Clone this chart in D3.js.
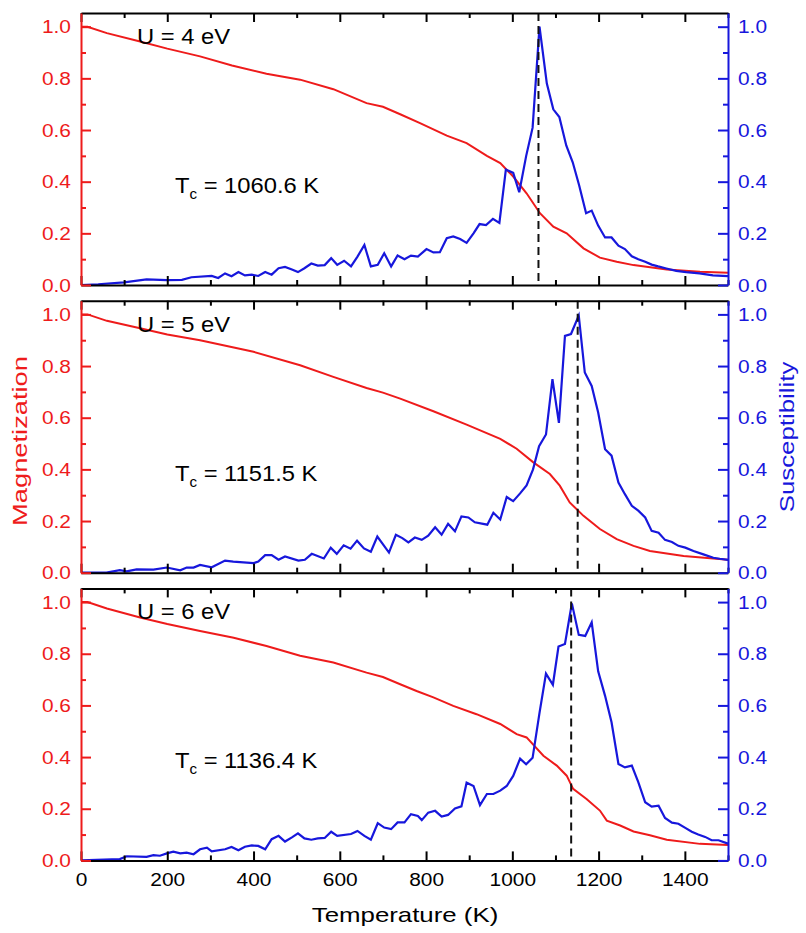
<!DOCTYPE html>
<html>
<head>
<meta charset="utf-8">
<script src="https://cdn.jsdelivr.net/npm/d3@7"></script>
<style>
body { margin: 0; background: #fff; }
text { font-family: "Liberation Sans", Arial, sans-serif; }
</style>
</head>
<body>
<svg id="chart"></svg>
<script>
// tick values
var xTicks = [0, 200, 400, 600, 800, 1000, 1200, 1400];
var xMinor = [100, 300, 500, 700, 900, 1100, 1300, 1500];
var yTicks = [0, 0.2, 0.4, 0.6, 0.8, 1.0];
var yMinor = [0.1, 0.3, 0.5, 0.7, 0.9];

var panelU = ["U = 4 eV", "U = 5 eV", "U = 6 eV"];
var tcValues = [1060.6, 1151.5, 1136.4];

// magnetization (red), [T, M]
var mag4 = [[0,1.0],[15,1.0],[60,0.975],[137,0.943],[200,0.915],[276,0.885],[350,0.85],[430,0.818],[508,0.795],[585,0.758],
  [662,0.704],[700,0.69],[740,0.661],[786,0.627],[848,0.578],[894,0.549],[941,0.5],[972,0.472],[1002,0.42],[1033,0.355],
  [1064,0.278],[1095,0.226],[1126,0.2],[1165,0.142],[1203,0.106],[1242,0.09],[1281,0.077],[1358,0.06],[1435,0.051],[1500,0.047]];
var mag5 = [[0,1.0],[15,1.0],[60,0.975],[137,0.946],[200,0.922],[276,0.9],[400,0.855],[508,0.803],[585,0.758],[662,0.715],
  [700,0.697],[740,0.674],[817,0.625],[894,0.573],[972,0.518],[1010,0.48],[1048,0.428],[1087,0.382],[1110,0.337],[1133,0.272],
  [1165,0.22],[1203,0.169],[1242,0.13],[1281,0.104],[1319,0.084],[1397,0.065],[1500,0.05]];
var mag6 = [[0,1.0],[15,1.0],[60,0.975],[137,0.94],[200,0.915],[276,0.888],[354,0.862],[430,0.83],[508,0.792],[585,0.766],
  [662,0.727],[700,0.71],[740,0.682],[778,0.656],[817,0.631],[863,0.598],[917,0.566],[972,0.528],[1010,0.489],[1033,0.476],
  [1072,0.405],[1103,0.367],[1126,0.328],[1141,0.277],[1172,0.238],[1203,0.193],[1219,0.154],[1250,0.135],[1281,0.112],
  [1319,0.097],[1358,0.08],[1435,0.064],[1500,0.06]];

// susceptibility (blue), [T, chi]
var sus4 = [[0,0],[40,0.003],[100,0.01],[152,0.022],[199,0.019],[234,0.02],[256,0.03],[303,0.035],[318,0.027],[334,0.045],
  [349,0.034],[365,0.05],[380,0.037],[396,0.04],[411,0.035],[427,0.05],[442,0.04],[458,0.065],[473,0.07],[489,0.06],
  [503,0.05],[518,0.065],[534,0.083],[549,0.075],[565,0.077],[580,0.104],[594,0.078],[610,0.094],[626,0.072],[641,0.11],
  [657,0.155],[672,0.072],[688,0.078],[703,0.123],[719,0.072],[734,0.114],[750,0.1],[765,0.114],[781,0.11],[801,0.139],
  [817,0.126],[832,0.127],[848,0.181],[863,0.188],[879,0.178],[894,0.163],[910,0.2],[924,0.236],[939,0.232],[955,0.256],
  [970,0.24],[985,0.447],[1002,0.434],[1016,0.359],[1032,0.499],[1047,0.609],[1063,1.0],[1080,0.78],[1095,0.68],[1109,0.65],
  [1125,0.54],[1140,0.475],[1155,0.385],[1171,0.278],[1184,0.288],[1199,0.23],[1215,0.184],[1230,0.184],[1246,0.152],
  [1261,0.139],[1277,0.111],[1292,0.1],[1308,0.09],[1323,0.079],[1338,0.072],[1357,0.064],[1380,0.055],[1403,0.05],
  [1434,0.045],[1465,0.037],[1500,0.034]];
var sus5 = [[0,0],[59,0],[90,0.01],[106,0.005],[129,0.013],[168,0.012],[199,0.02],[230,0.009],[245,0.02],[261,0.02],
  [276,0.03],[303,0.021],[334,0.047],[353,0.043],[400,0.037],[411,0.043],[427,0.068],[442,0.068],[458,0.05],[473,0.063],
  [504,0.047],[519,0.05],[535,0.073],[563,0.055],[579,0.097],[593,0.073],[609,0.106],[625,0.093],[640,0.124],[656,0.094],
  [672,0.081],[687,0.14],[714,0.078],[730,0.147],[745,0.134],[759,0.117],[774,0.136],[790,0.127],[805,0.143],[821,0.176],
  [836,0.147],[851,0.189],[867,0.16],[882,0.218],[898,0.214],[913,0.195],[942,0.186],[956,0.232],[972,0.206],[987,0.293],
  [1002,0.277],[1018,0.307],[1033,0.338],[1048,0.4],[1062,0.49],[1078,0.535],[1093,0.749],[1108,0.58],[1122,0.917],
  [1136,0.924],[1154,0.995],[1168,0.775],[1184,0.723],[1199,0.62],[1215,0.478],[1230,0.453],[1246,0.349],[1261,0.304],
  [1277,0.259],[1292,0.24],[1308,0.214],[1323,0.162],[1339,0.155],[1354,0.127],[1370,0.119],[1385,0.104],[1401,0.097],
  [1420,0.084],[1443,0.071],[1466,0.058],[1481,0.054],[1500,0.05]];
var sus6 = [[0,0],[90,0.005],[106,0.016],[152,0.014],[168,0.02],[183,0.018],[199,0.027],[214,0.034],[230,0.027],[245,0.03],
  [261,0.024],[276,0.043],[292,0.049],[303,0.035],[334,0.043],[349,0.052],[365,0.039],[380,0.053],[396,0.058],[411,0.056],
  [427,0.043],[442,0.082],[458,0.095],[473,0.073],[489,0.089],[503,0.105],[518,0.085],[534,0.08],[549,0.085],[565,0.087],
  [580,0.111],[594,0.095],[626,0.102],[641,0.114],[657,0.095],[672,0.08],[688,0.144],[703,0.127],[719,0.121],[734,0.147],
  [750,0.147],[765,0.179],[781,0.172],[790,0.156],[805,0.185],[821,0.192],[836,0.17],[851,0.176],[867,0.201],[882,0.209],
  [894,0.301],[910,0.288],[925,0.214],[941,0.257],[956,0.257],[972,0.27],[987,0.288],[1002,0.327],[1018,0.394],[1032,0.372],
  [1047,0.397],[1063,0.571],[1078,0.723],[1094,0.68],[1107,0.828],[1122,0.838],[1138,0.995],[1154,0.873],[1169,0.869],
  [1184,0.922],[1199,0.732],[1215,0.637],[1230,0.535],[1246,0.373],[1261,0.36],[1277,0.367],[1292,0.303],[1308,0.225],
  [1323,0.208],[1339,0.212],[1354,0.164],[1370,0.146],[1385,0.142],[1401,0.126],[1416,0.111],[1431,0.1],[1447,0.091],
  [1462,0.078],[1478,0.078],[1500,0.065]];

var magData = [mag4, mag5, mag6];
var susData = [sus4, sus5, sus6];

var size = {width: 806, height: 933};
var margins = {left: 81, top: 13};
var width = 647, panelH = 272, gap = 15.7;
var red = "#ee1b1b", blue = "#1717dc";

var svg = d3.select("#chart")
    .attr("width", size.width)
    .attr("height", size.height);

var x = d3.scaleLinear().domain([0, 1500]).range([0, width]);
var y = d3.scaleLinear().domain([0, 1.053]).range([panelH, 0]);

// widen text horizontally around its anchor
var stretch = function(sel, sx) {
    sel.each(function() {
        var t = d3.select(this);
        var tx = +t.attr("x") || 0, ty = +t.attr("y") || 0;
        t.attr("x", 0).attr("y", 0)
         .attr("transform", "translate(" + tx + "," + ty + ") scale(" + sx + ",1)");
    });
};

var styleAxis = function(ag, color, showDomain) {
    ag.selectAll(".tick line").attr("stroke", color).attr("stroke-width", 2);
    if (showDomain) ag.select(".domain").attr("stroke", color).attr("stroke-width", 2);
    else ag.select(".domain").remove();
    ag.selectAll(".tick text").attr("fill", color).style("font-size", "19px");
    stretch(ag.selectAll(".tick text"), 1.1);
    return ag;
};

var valueLine = d3.line()
    .x(function(d) { return x(d[0]); })
    .y(function(d) { return y(d[1]); });

var noLabel = function() { return ""; };

for (var i = 0; i < 3; i++) {
    var g = svg.append("g")
        .attr("transform", "translate(" + margins.left + "," + (margins.top + i * (panelH + gap)) + ")");

    g.append("path").datum(magData[i])
        .attr("d", valueLine).attr("fill", "none")
        .attr("stroke", red).attr("stroke-width", 2);

    g.append("path").datum(susData[i])
        .attr("d", valueLine).attr("fill", "none")
        .attr("stroke", blue).attr("stroke-width", 2.2);

    g.append("line")
        .attr("x1", x(tcValues[i])).attr("x2", x(tcValues[i]))
        .attr("y1", 0).attr("y2", panelH)
        .attr("stroke", "#111").attr("stroke-width", 2)
        .attr("stroke-dasharray", "8,5");

    // bottom axis
    var bottom = d3.axisBottom(x).tickValues(xTicks).tickSizeInner(-9).tickSizeOuter(0).tickPadding(12)
        .tickFormat(i < 2 ? noLabel : d3.format("d"));
    styleAxis(g.append("g").attr("transform", "translate(0," + panelH + ")").call(bottom), "#000", true);
    styleAxis(g.append("g").attr("transform", "translate(0," + panelH + ")")
        .call(d3.axisBottom(x).tickValues(xMinor).tickSizeInner(-5).tickSizeOuter(0).tickFormat(noLabel)), "#000", false);

    // top axis
    styleAxis(g.append("g")
        .call(d3.axisTop(x).tickValues(xTicks).tickSizeInner(-9).tickSizeOuter(0).tickFormat(noLabel)), "#000", true);
    styleAxis(g.append("g")
        .call(d3.axisTop(x).tickValues(xMinor).tickSizeInner(-5).tickSizeOuter(0).tickFormat(noLabel)), "#000", false);

    // left axis (magnetization)
    styleAxis(g.append("g")
        .call(d3.axisLeft(y).tickValues(yTicks).tickSizeInner(-10).tickSizeOuter(0).tickPadding(10).tickFormat(d3.format(".1f"))), red, true);
    styleAxis(g.append("g")
        .call(d3.axisLeft(y).tickValues(yMinor).tickSizeInner(-5).tickSizeOuter(0).tickFormat(noLabel)), red, false);

    // right axis (susceptibility)
    styleAxis(g.append("g").attr("transform", "translate(" + width + ",0)")
        .call(d3.axisRight(y).tickValues(yTicks).tickSizeInner(-10).tickSizeOuter(0).tickPadding(10).tickFormat(d3.format(".1f"))), blue, true);
    styleAxis(g.append("g").attr("transform", "translate(" + width + ",0)")
        .call(d3.axisRight(y).tickValues(yMinor).tickSizeInner(-5).tickSizeOuter(0).tickFormat(noLabel)), blue, false);

    var u = g.append("text")
        .attr("x", 56).attr("y", 31)
        .style("font-size", "22px").attr("fill", "#000")
        .text(panelU[i]);
    stretch(u, 1.08);

    var tc = g.append("text")
        .attr("x", 94).attr("y", 180)
        .style("font-size", "22px").attr("fill", "#000");
    tc.append("tspan").text("T");
    tc.append("tspan").attr("dy", 6).style("font-size", "14px").text("c");
    tc.append("tspan").attr("dy", -6).text(" = " + tcValues[i].toFixed(1) + " K");
    stretch(tc, 1.08);
}

svg.append("text")
    .attr("transform", "translate(405,922) scale(1.23,1)")
    .style("text-anchor", "middle").style("font-size", "21px")
    .text("Temperature (K)");

svg.append("text")
    .attr("transform", "translate(27,441) rotate(-90) scale(1.3,1)")
    .style("text-anchor", "middle").style("font-size", "21px")
    .attr("fill", red)
    .text("Magnetization");

svg.append("text")
    .attr("transform", "translate(794,437) rotate(-90) scale(1.23,1)")
    .style("text-anchor", "middle").style("font-size", "21px")
    .attr("fill", blue)
    .text("Susceptibility");
</script>
</body>
</html>
